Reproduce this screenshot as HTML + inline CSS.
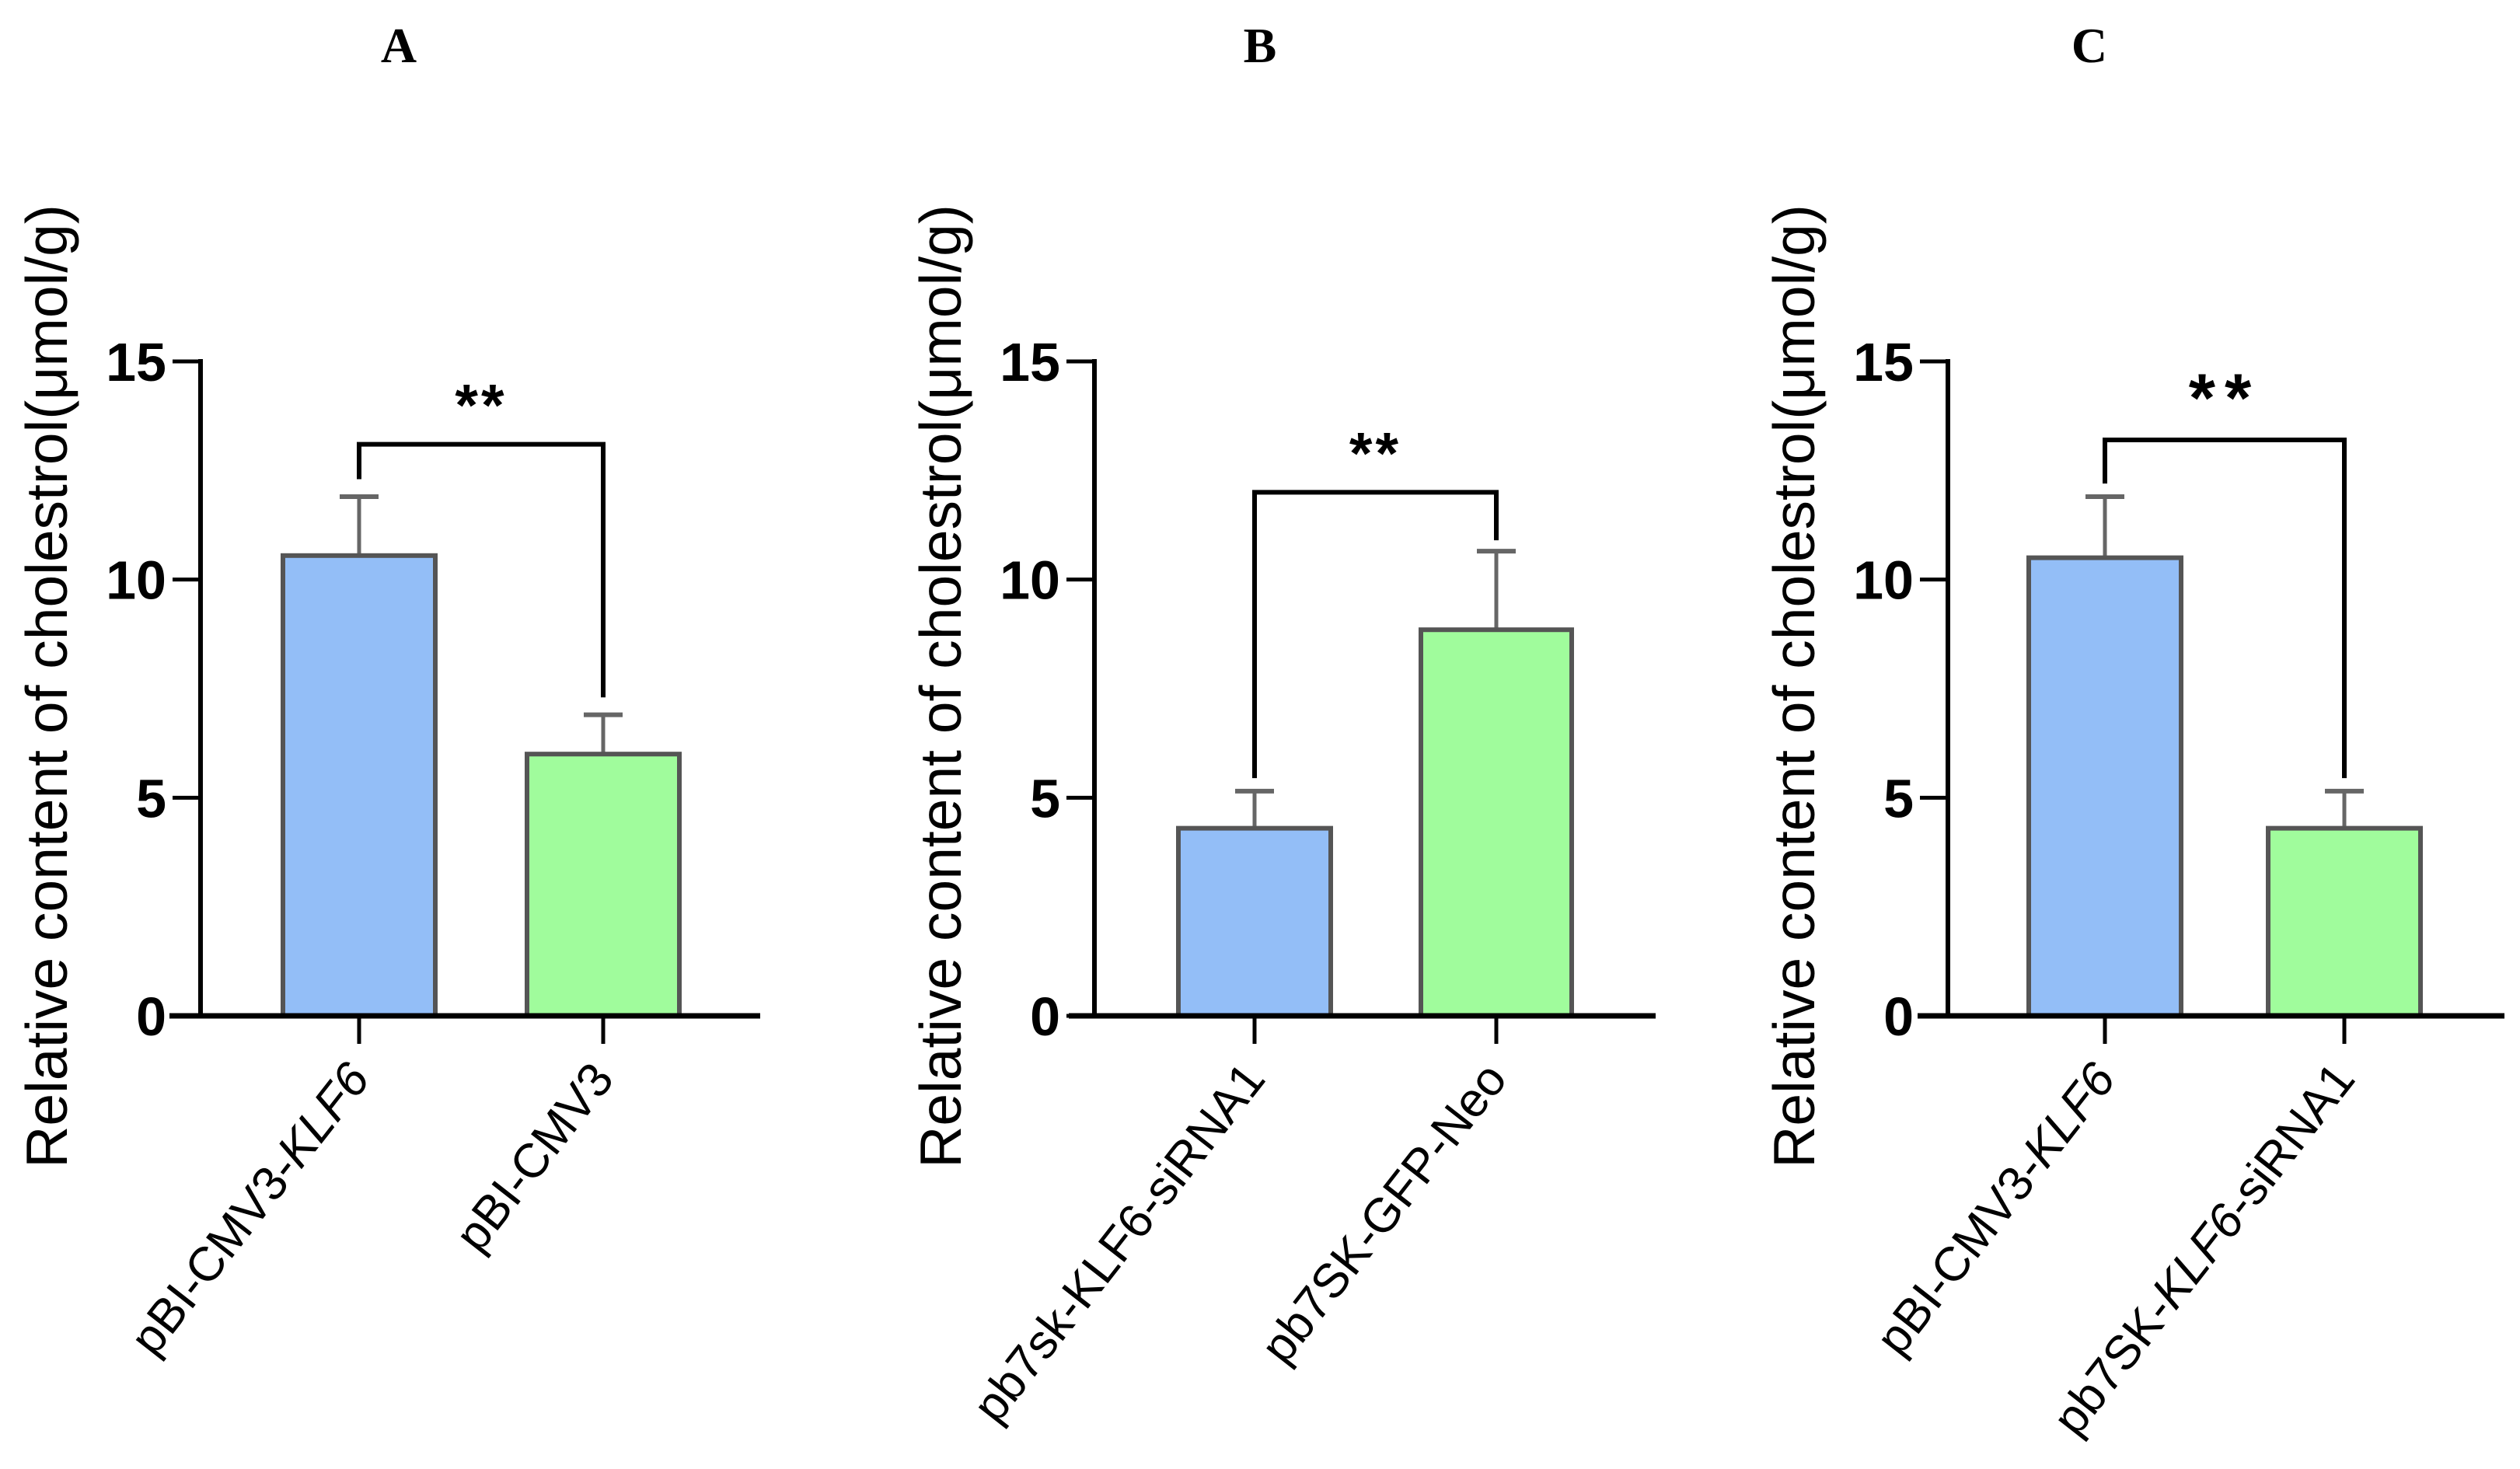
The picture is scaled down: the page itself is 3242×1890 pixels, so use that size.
<!DOCTYPE html>
<html><head><meta charset="utf-8"><style>
body{margin:0;background:#fff}
svg{display:block}
text{font-family:"Liberation Sans",Arial,sans-serif}
</style></head><body>
<svg id="chart" width="3242" height="1890" viewBox="0 0 3242 1890" xmlns="http://www.w3.org/2000/svg"></svg>
<script>
const panelTitles = ["A","B","C"];
const yTicks = [0,5,10,15];
const catsA = ["pBI-CMV3-KLF6","pBI-CMV3"];
const catsB = ["pb7sk-KLF6-siRNA1","pb7SK-GFP-Neo"];
const catsC = ["pBI-CMV3-KLF6","pb7SK-KLF6-siRNA1"];
const meanA = [10.55, 6.0];
const errA = [11.9, 6.9];
const meanB = [4.3, 8.85];
const errB = [5.15, 10.65];
const meanC = [10.5, 4.3];
const errC = [11.9, 5.15];
const bracketLevel = [13.1, 12.0, 13.2];
const bracketLegs = [[12.3, 7.3],[5.45, 10.9],[12.2, 5.45]];
const sigLabels = ["**","**","**"];

const NS="http://www.w3.org/2000/svg";
const svg=document.getElementById('chart');
function mk(tag,attrs,parent){const e=document.createElementNS(NS,tag);for(const k in attrs)e.setAttribute(k,attrs[k]);(parent||svg).appendChild(e);return e;}

const panels=[
 {ax:258,x0:218,x1:978,bars:[[364,560],[678,874]],cats:catsA,mean:meanA,err:errA,tx:513,italic:[["pBI-CMV3-","KLF6"],["pBI-CMV3",""]]},
 {ax:1408,x0:1375,x1:2130,bars:[[1516,1712],[1828,2022]],cats:catsB,mean:meanB,err:errB,tx:1621,italic:[["pb7sk-KLF6-siRNA1",""],["pb7SK-GFP-Neo",""]]},
 {ax:2506,x0:2467,x1:3222,bars:[[2610,2806],[2918,3114]],cats:catsC,mean:meanC,err:errC,tx:2688,italic:[["pBI-CMV3-","KLF6"],["pb7SK-","KLF6","-siRNA1"]]}
];
const y0=1307,y15=465;
function Y(v){return y0-(y0-y15)*v/15;}
const colors=["#93bef7","#a0fc9c"];

panels.forEach((p,pi)=>{
  const g=mk('g',{});
  
  
  const t=mk('text',{x:p.tx,y:80,'text-anchor':'middle','font-size':64,'font-weight':'bold',style:'font-family:"Liberation Serif",serif'},g);
  t.textContent=panelTitles[pi];
  
  
  const yt=mk('text',{transform:`translate(${p.ax-172},883) rotate(-90)`,'text-anchor':'middle','font-size':75},g);
  yt.textContent="Relative content of cholestrol(\u03bcmol/g)";
  
  
  p.bars.forEach((b,i)=>{
    const cx=(b[0]+b[1])/2;
    const eb=mk('line',{x1:cx,x2:cx,y1:Y(p.mean[i]),y2:Y(p.err[i]),stroke:'#666','stroke-width':5},g);
    
    
    const cap=mk('line',{x1:cx-25,x2:cx+25,y1:Y(p.err[i]),y2:Y(p.err[i]),stroke:'#666','stroke-width':6},g);
    
    
    const r=mk('rect',{x:b[0],y:Y(p.mean[i]),width:b[1]-b[0],height:y0-Y(p.mean[i]),fill:colors[i],stroke:'#555','stroke-width':6},g);
    
    
    const tk=mk('line',{x1:cx,x2:cx,y1:y0,y2:y0+36,stroke:'#000','stroke-width':5},g);
    
    
    const lbl=mk('text',{transform:`translate(${cx+16},${y0+82}) rotate(-52)`,'text-anchor':'end','font-size':62},g);
    
    
    const parts=p.italic[i];
    if(pi===2&&i===1){
      const a=mk('tspan',{},lbl);a.textContent="pb7SK-";
      const b2=mk('tspan',{'font-style':'italic'},lbl);b2.textContent="KLF6";
      const c=mk('tspan',{},lbl);c.textContent="-siRNA1";
    } else {
      const a=mk('tspan',{},lbl);a.textContent=parts[0];
      if(parts[1]){const b2=mk('tspan',{'font-style':'italic'},lbl);b2.textContent=parts[1];}
    }
  });
  const ya=mk('line',{x1:p.ax,x2:p.ax,y1:Y(15)-3,y2:y0,stroke:'#000','stroke-width':6},g);
  
  
  const xa=mk('line',{x1:p.x0,x2:p.x1,y1:y0,y2:y0,stroke:'#000','stroke-width':7},g);
  
  
  yTicks.forEach(v=>{
    const l=mk('line',{x1:p.ax-36,x2:p.ax,y1:Y(v),y2:Y(v),stroke:'#000','stroke-width':5},g);
    
    
    const tt=mk('text',{x:p.ax-44,y:Y(v)+25,'text-anchor':'end','font-size':70,'font-weight':'bold'},g);
    tt.textContent=v;
    
    
  });
  const c1=(p.bars[0][0]+p.bars[0][1])/2, c2=(p.bars[1][0]+p.bars[1][1])/2;
  const br=mk('path',{d:`M${c1},${Y(bracketLegs[pi][0])}V${Y(bracketLevel[pi])}H${c2}V${Y(bracketLegs[pi][1])}`,fill:'none',stroke:'#000','stroke-width':6},g);
  
  
  const st=mk('text',{x:(c1+c2)/2,y:Y(bracketLevel[pi])-24,'text-anchor':'middle','font-size':pi===2?88:76,'font-weight':'bold','letter-spacing':pi===2?12:4},g);
  st.textContent=sigLabels[pi];
  
  
});
</script>
</body></html>
